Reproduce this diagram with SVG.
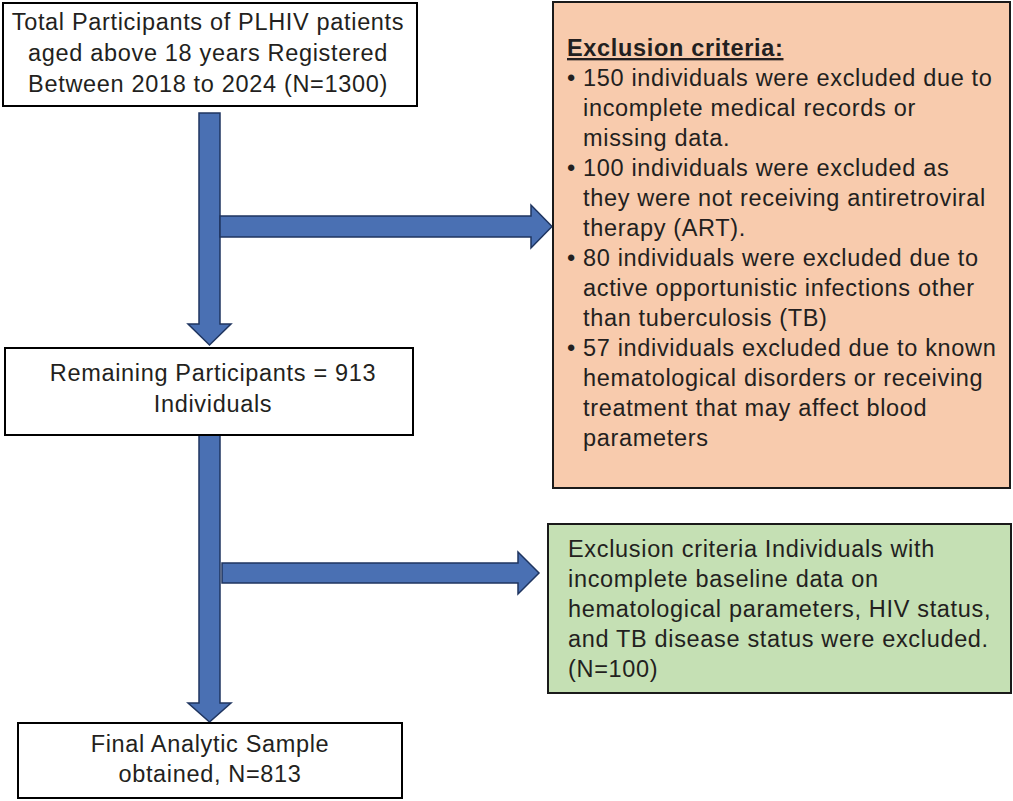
<svg xmlns="http://www.w3.org/2000/svg" width="1013" height="801" viewBox="0 0 1013 801">
<style>
.box{fill:#ffffff;stroke:#000000;stroke-width:2}
.pink{fill:#f8cbad;stroke:#1a1a1a;stroke-width:2}
.green{fill:#c5e0b4;stroke:#1a1a1a;stroke-width:2}
.arrow{fill:#4a70b3;stroke:#1f3560;stroke-width:1.5;stroke-linejoin:miter}
text{font-family:"Liberation Sans",Arial,sans-serif;font-size:23.5px;letter-spacing:0.67px;fill:#231f20}
.c{text-anchor:middle}
.b{font-weight:bold;text-decoration:underline}
</style>
<rect width="1013" height="801" fill="#ffffff"/>
<g id="connectors">
<polygon class="arrow" points="199,113 220,113 220,324 231,324 209.5,345 188,324 199,324"/>
<polygon class="arrow" points="220,216 531,216 531,205 552,226.5 531,248 531,237 220,237"/>
<polygon class="arrow" points="199,435 220,435 220,703 231,703 209.5,722 188,703 199,703"/>
<polygon class="arrow" points="222,563 518,563 518,552 539,573 518,594 518,583 222,583"/>
</g>
<g id="node-total">
<rect class="box" x="3" y="3" width="414" height="103"/>
<text class="c" x="208" y="30">Total Participants of PLHIV patients</text>
<text class="c" x="208" y="61">aged above 18 years Registered</text>
<text class="c" x="208" y="92">Between 2018 to 2024 (N=1300)</text>
</g>
<g id="node-remaining">
<rect class="box" x="5" y="348" width="408" height="87"/>
<text class="c" x="213" y="381">Remaining Participants = 913</text>
<text class="c" x="213" y="412">Individuals</text>
</g>
<g id="node-final">
<rect class="box" x="18" y="723" width="384" height="75"/>
<text class="c" x="210" y="752">Final Analytic Sample</text>
<text class="c" x="210" y="782">obtained, N=813</text>
</g>
<g id="node-exclusion1">
<rect class="pink" x="553" y="2" width="457" height="486"/>
<text class="b" x="567" y="56">Exclusion criteria:</text>
<text x="567" y="86">•</text><text x="583" y="86">150 individuals were excluded due to</text>
<text x="583" y="116">incomplete medical records or</text>
<text x="583" y="146">missing data.</text>
<text x="567" y="176">•</text><text x="583" y="176">100 individuals were excluded as</text>
<text x="583" y="206">they were not receiving antiretroviral</text>
<text x="583" y="236">therapy (ART).</text>
<text x="567" y="266">•</text><text x="583" y="266">80 individuals were excluded due to</text>
<text x="583" y="296">active opportunistic infections other</text>
<text x="583" y="326">than tuberculosis (TB)</text>
<text x="567" y="356">•</text><text x="583" y="356">57 individuals excluded due to known</text>
<text x="583" y="386">hematological disorders or receiving</text>
<text x="583" y="416">treatment that may affect blood</text>
<text x="583" y="446">parameters</text>
</g>
<g id="node-exclusion2">
<rect class="green" x="548" y="524" width="463" height="169"/>
<text x="568" y="557">Exclusion criteria Individuals with</text>
<text x="568" y="587">incomplete baseline data on</text>
<text x="568" y="617">hematological parameters, HIV status,</text>
<text x="568" y="647">and TB disease status were excluded.</text>
<text x="568" y="677">(N=100)</text>
</g>
</svg>
